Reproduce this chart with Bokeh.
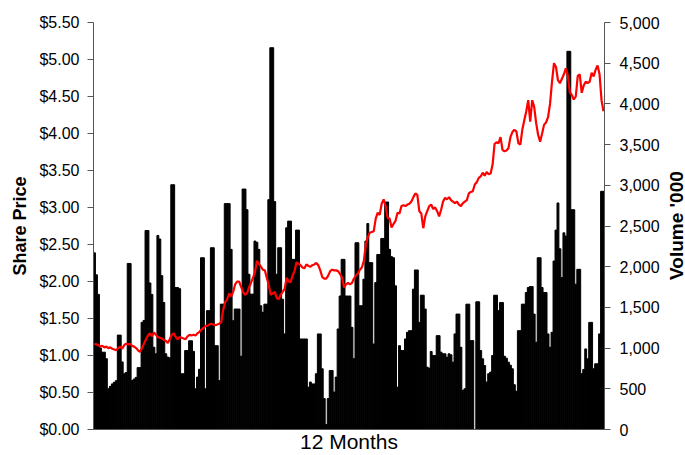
import math
from bokeh.plotting import figure
from bokeh.layouts import row
from bokeh.models import LinearAxis, Range1d, FixedTicker, NumeralTickFormatter
from bokeh.core.properties import value
from bokeh.embed import file_html
from bokeh.resources import INLINE

# Daily traded volume ('000), 12 months of trading days
volume = [
    2170, 1900, 1660, 1000, 950, 950, 870, 500, 530, 560, 580, 600, 1160, 1160, 830, 685, 700, 2040, 2040, 600, 620,
    640, 760, 760, 1316, 1340, 2445, 2445, 1800, 1660, 1010, 930, 2384, 2340, 1890, 1560, 930, 890, 880, 3007, 3007,
    1744, 1744,
    1730, 685, 685, 970, 970, 1090, 1090, 960, 500, 644, 740, 2110, 2110, 500, 1460, 1460, 2233, 2233, 1030, 1030, 600,
    1540, 1540, 2775, 2775, 2775, 2213, 1336, 1480, 1480, 1480, 900, 2954, 2954, 2700, 1907, 1663, 1663, 2315, 2300,
    2213, 1520, 1440,
    1540, 1540, 2824, 4690, 4690, 2800, 1907, 2233, 2233, 1600, 1174, 2478, 2560, 2560, 2090, 2090, 2450, 2450, 1112,
    1112, 1112, 1112, 520, 583, 560, 560, 685, 1174, 1174, 746, 380, 60, 380, 725, 725, 460, 644, 1235, 1640, 2090,
    2090, 1640, 1640,
    1640, 1255, 870, 2294, 2294, 1520, 1520, 1846, 2315, 2530, 2050, 2050, 1050, 1805, 2150, 2150, 2347, 2347, 2795,
    2795, 2213, 2123, 2110, 1765, 520, 1030, 970, 970, 1112, 1194, 1214, 1214, 1724, 1960, 1960, 1316, 1650, 1650,
    1480, 766, 754, 958, 908,
    908, 1153, 1153, 950, 930, 930, 888, 930, 917, 827, 1174, 1418, 1418, 1010, 480, 500, 1540, 1540, 1092, 1092, 0,
    1569, 1569, 970, 868, 786, 583, 685, 705, 908, 1650, 1650, 1460, 1560, 1560, 900, 876, 827, 790, 746, 550, 470,
    1214,
    1214, 1540, 1540, 1683, 1744, 1756, 1756, 1418, 1072, 2110, 2110, 1744, 1683, 1683, 1174, 1010, 1194, 2070, 2450,
    2783, 2220, 1866, 2416, 2376, 4646, 4646, 2700, 2700, 1785, 1968, 1968, 685, 738, 990, 868, 1316, 1316, 746, 807,
    807, 1174, 2926, 2926,
]

# Daily closing share price ($)
price = [
    1.16, 1.15, 1.14, 1.12, 1.13, 1.11, 1.12, 1.10, 1.11, 1.09, 1.08, 1.07, 1.10, 1.12, 1.09, 1.14, 1.16, 1.15, 1.16,
    1.13, 1.12, 1.10, 1.07, 1.05, 1.10, 1.16, 1.22, 1.27, 1.30, 1.26, 1.31, 1.28, 1.25, 1.24, 1.23, 1.21, 1.20, 1.17,
    1.22, 1.28, 1.30, 1.25, 1.22,
    1.25, 1.24, 1.23, 1.22, 1.26, 1.28, 1.27, 1.28, 1.27, 1.30, 1.32, 1.35, 1.37, 1.40, 1.40, 1.42, 1.43, 1.42, 1.41,
    1.42, 1.43, 1.45, 1.62, 1.72, 1.76, 1.84, 1.80, 1.86, 1.96, 2.00, 2.00, 1.93, 1.86, 1.82, 1.84, 1.92, 1.98, 2.05,
    2.12, 2.28, 2.24, 2.20, 2.16,
    2.15, 2.05, 1.95, 1.82, 1.84, 1.86, 1.78, 1.76, 1.82, 1.86, 1.90, 2.05, 2.00, 1.99, 2.08, 2.14, 2.26, 2.24, 2.22,
    2.19, 2.18, 2.23, 2.21, 2.20, 2.22, 2.23, 2.25, 2.22, 2.15, 2.06, 2.04, 2.04, 2.08, 2.14, 2.16, 2.15, 2.15, 2.14,
    2.10, 2.05, 1.92, 1.96, 1.98,
    1.96, 1.98, 2.04, 2.08, 2.11, 2.16, 2.19, 2.28, 2.50, 2.60, 2.66, 2.67, 2.68, 2.85, 2.93, 2.90, 3.05, 3.11, 3.02,
    2.86, 2.85, 2.73, 2.78, 2.82, 2.93, 2.92, 3.02, 3.03, 3.02, 3.04, 3.05, 3.08, 3.14, 3.19, 3.17, 2.95, 2.92, 2.72,
    2.88, 2.95, 3.02, 3.04, 2.98,
    3.00, 2.95, 2.88, 2.97, 3.08, 3.13, 3.11, 3.14, 3.10, 3.08, 3.06, 3.08, 3.04, 3.02, 3.06, 3.08, 3.10, 3.19, 3.21,
    3.22, 3.31, 3.34, 3.40, 3.42, 3.47, 3.43, 3.48, 3.45, 3.46, 3.58, 3.86, 3.88, 3.87, 3.95, 3.78, 3.76, 3.77, 3.80,
    3.95, 4.02, 4.05, 4.03, 3.87,
    3.85, 4.05, 4.18, 4.30, 4.45, 4.16, 4.45, 4.36, 4.14, 3.98, 3.89, 4.00, 4.12, 4.15, 4.22, 4.40, 4.70, 4.95, 4.90,
    4.72, 4.68, 4.74, 4.80, 4.88, 4.78, 4.56, 4.52, 4.46, 4.50, 4.78, 4.80, 4.55, 4.65, 4.70, 4.68, 4.70, 4.82, 4.77,
    4.86, 4.92, 4.80, 4.45, 4.30,
]

price_ticks = [0.0, 0.5, 1.0, 1.5, 2.0, 2.5, 3.0, 3.5, 4.0, 4.5, 5.0, 5.5]
volume_ticks = [0, 500, 1000, 1500, 2000, 2500, 3000, 3500, 4000, 4500, 5000]

days = list(range(len(volume)))

FONT = "Liberation Sans"
AXIS_COLOR = "#555555"
H = 455

p = figure(width=662, height=H, output_backend="svg", toolbar_location=None,
           x_range=Range1d(-0.5, len(days) - 0.5),
           y_range=Range1d(price_ticks[0], price_ticks[-1]),
           min_border_left=93, min_border_right=57, min_border_top=22, min_border_bottom=24)
p.extra_y_ranges = {"vol": Range1d(volume_ticks[0], volume_ticks[-1])}

p.vbar(x=days, top=volume, bottom=0, width=0.95, color="black", y_range_name="vol")
p.line(days, price, color="#FF0000", line_width=2.2)

p.xgrid.visible = False
p.ygrid.visible = False
p.outline_line_color = None
p.background_fill_color = "white"
p.border_fill_color = "white"

# x axis: no ticks, just label
xa = p.xaxis[0]
xa.ticker = FixedTicker(ticks=[])
xa.major_tick_line_color = None
xa.minor_tick_line_color = None
xa.axis_line_color = AXIS_COLOR
xa.axis_label = "12 Months"
xa.axis_label_text_font = FONT
xa.axis_label_text_font_style = "normal"
xa.axis_label_text_font_size = "21px"
xa.axis_label_text_color = "black"
xa.axis_label_standoff = 0
xa.major_label_text_font_size = "0px"

# left axis: share price
ya = p.yaxis[0]
ya.ticker = FixedTicker(ticks=price_ticks)
ya.formatter = NumeralTickFormatter(format="$0.00")
ya.axis_label = "Share Price"
ya.axis_label_text_font = FONT
ya.axis_label_text_font_style = "bold"
ya.axis_label_text_font_size = "18px"
ya.axis_label_text_color = "black"
ya.axis_label_standoff = 6
ya.major_label_text_font = FONT
ya.major_label_text_font_size = "16px"
ya.major_label_text_color = "black"
ya.major_label_standoff = 8
ya.major_tick_out = 6
ya.major_tick_in = 0
ya.minor_tick_line_color = None
ya.axis_line_color = AXIS_COLOR
ya.major_tick_line_color = AXIS_COLOR

# right axis: volume
ra = LinearAxis(y_range_name="vol", ticker=FixedTicker(ticks=volume_ticks),
                formatter=NumeralTickFormatter(format="0,0"))
ra.major_label_text_font = FONT
ra.major_label_text_font_size = "16px"
ra.major_label_text_color = "black"
ra.major_label_standoff = 9
ra.major_tick_out = 6
ra.major_tick_in = 0
ra.minor_tick_line_color = None
ra.axis_line_color = AXIS_COLOR
ra.major_tick_line_color = AXIS_COLOR
p.add_layout(ra, "right")

# narrow strip to the right carrying the right-axis title, reading bottom-to-top
TW = 23
t = figure(width=TW, height=H, output_backend="svg", toolbar_location=None,
           x_range=Range1d(0, TW), y_range=Range1d(0, H),
           x_axis_type=None, y_axis_type=None,
           min_border_left=0, min_border_right=0, min_border_top=0, min_border_bottom=0)
t.grid.visible = False
t.outline_line_color = None
t.background_fill_color = "white"
t.border_fill_color = "white"
t.text(x=[13.5], y=[H - 227], text=["Volume '000"], angle=math.pi / 2,
       text_align="center", text_baseline="middle",
       text_font=value(FONT), text_font_style="bold", text_font_size="19px", text_color="black")

layout = row(p, t, spacing=0)

open("out.html", "w").write(file_html(layout, INLINE))
